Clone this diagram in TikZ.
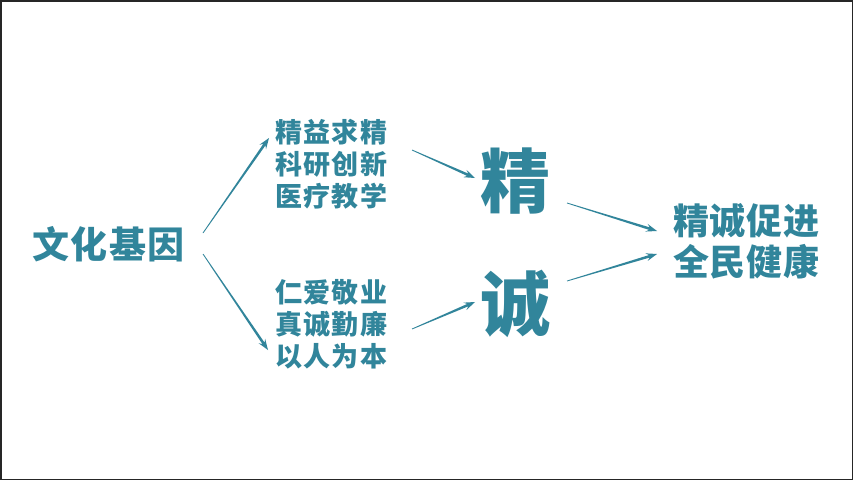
\documentclass[tikz,border=0pt]{standalone}
\usepackage{fontspec}
\newfontfamily\cjk{Noto Sans CJK SC}
\usetikzlibrary{calc}
\definecolor{tealc}{RGB}{49,133,155}
\newcommand\tarrow[2]{%
  \path ($(#2)!11pt!(#1)$) coordinate (hb) ($(#2)!8pt!(#1)$) coordinate (hn);
  \fill[tealc] ($(#1)!0.4pt!90:(#2)$) -- ($(hn)!1.3pt!90:(#2)$) -- ($(hb)!4pt!90:(#2)$) -- (#2)
    -- ($(hb)!4pt!-90:(#2)$) -- ($(hn)!1.3pt!-90:(#2)$) -- ($(#1)!0.4pt!-90:(#2)$) -- cycle;}
\begin{document}
\begin{tikzpicture}[x=1pt,y=-1pt,
  txt/.style={text=tealc,inner sep=0pt,font=\cjk\bfseries},
  mid/.style={txt,align=left,font=\cjk\bfseries\fontsize{27}{32}\selectfont\addfontfeature{LetterSpace=5}},
  big/.style={txt,font=\cjk\bfseries\fontsize{70}{80}\selectfont}]
\useasboundingbox (0,0) rectangle (853,480);
\fill[white] (0,0) rectangle (853,480);
\draw[line width=1.5pt,black!85] (0.75,0.75) rectangle (852.25,479.25);
\node[txt,font=\cjk\bfseries\fontsize{37}{40}\selectfont\addfontfeature{LetterSpace=4},anchor=west] (gene) at (32,244) {文化基因};
\node[mid,anchor=west] (up) at (275,164) {精益求精\\科研创新\\医疗教学};
\node[mid,anchor=west] (lo) at (275,324) {仁爱敬业\\真诚勤廉\\以人为本};
\node[big] (jing) at (515,181) {精};
\node[big] (cheng) at (515,304) {诚};
\node[txt,align=left,font=\cjk\bfseries\fontsize{36}{41}\selectfont\addfontfeature{LetterSpace=2},anchor=west] (res) at (673,241) {精诚促进\\全民健康};
\coordinate (a1s) at (203,233);
\coordinate (a1e) at (269,138);
\coordinate (a2s) at (203,254);
\coordinate (a2e) at (268,350);
\coordinate (a3s) at (412,150);
\coordinate (a3e) at (475,178);
\coordinate (a4s) at (412,329);
\coordinate (a4e) at (475,302);
\coordinate (a5s) at (567,203);
\coordinate (a5e) at (657,231);
\coordinate (a6s) at (567,281);
\coordinate (a6e) at (657,254);
\tarrow{a1s}{a1e}
\tarrow{a2s}{a2e}
\tarrow{a3s}{a3e}
\tarrow{a4s}{a4e}
\tarrow{a5s}{a5e}
\tarrow{a6s}{a6e}
\end{tikzpicture}
\end{document}
